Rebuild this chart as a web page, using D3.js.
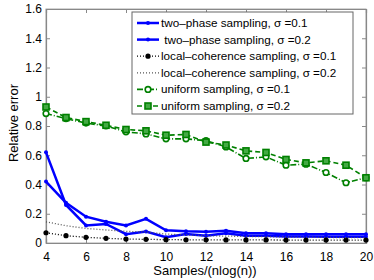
<!DOCTYPE html>
<html>
<head>
<meta charset="utf-8">
<script src="https://cdn.jsdelivr.net/npm/d3@7"></script>
<style>
  body { margin: 0; background: #fff; }
  text { font-family: "Liberation Sans", Arial, sans-serif; }
</style>
</head>
<body>
<div id="chart"></div>
<script>
// data
var samples = [4, 5, 6, 7, 8, 9, 10, 11, 12, 13, 14, 15, 16, 17, 18, 19, 20];
var twoPhase01 = [0.42, 0.275, 0.18, 0.145, 0.12, 0.165, 0.087, 0.08, 0.077, 0.084, 0.066, 0.066, 0.06, 0.06, 0.06, 0.06, 0.06];
var twoPhase02 = [0.62, 0.26, 0.12, 0.13, 0.06, 0.078, 0.04, 0.062, 0.05, 0.066, 0.05, 0.05, 0.045, 0.045, 0.043, 0.043, 0.043];
var local01 = [0.07, 0.05, 0.039, 0.032, 0.027, 0.025, 0.023, 0.022, 0.022, 0.021, 0.021, 0.021, 0.02, 0.02, 0.02, 0.02, 0.02];
var local02 = [0.145, 0.118, 0.1, 0.089, 0.08, 0.075, 0.061, 0.055, 0.05, 0.047, 0.045, 0.043, 0.041, 0.04, 0.038, 0.037, 0.036];
var uniform01 = [0.885, 0.85, 0.82, 0.80, 0.76, 0.746, 0.712, 0.712, 0.70, 0.657, 0.578, 0.589, 0.532, 0.539, 0.482, 0.412, 0.446];
var uniform02 = [0.93, 0.858, 0.83, 0.805, 0.776, 0.767, 0.737, 0.742, 0.69, 0.67, 0.63, 0.619, 0.571, 0.548, 0.562, 0.532, 0.446];
var xTicks = [4, 6, 8, 10, 12, 14, 16, 18, 20];
var yTicks = [0, 0.2, 0.4, 0.6, 0.8, 1, 1.2, 1.4, 1.6];
var legendLabels = [
  "two\u2013phase sampling, \u03c3 =0.1",
  " two\u2013phase sampling, \u03c3 =0.2",
  "local\u2013coherence sampling, \u03c3 =0.1",
  "local\u2013coherence sampling, \u03c3 =0.2",
  "uniform sampling, \u03c3 =0.1",
  "uniform sampling, \u03c3 =0.2"
];

var width = 374;
var height = 280;
var margin = { top: 9, right: 8, bottom: 37, left: 46 };
var chartWidth = width - margin.left - margin.right;
var chartHeight = height - margin.top - margin.bottom;

var svg = d3.select("#chart")
    .append("svg")
    .attr("width", width)
    .attr("height", height);

var chartGroup = svg.append("g")
    .attr("transform", `translate(${margin.left}, ${margin.top})`);

var xScale = d3.scaleLinear().domain([4, 20]).range([0, chartWidth]);
var yScale = d3.scaleLinear().domain([0, 1.6]).range([chartHeight, 0]);

// frame with inward ticks, like matlab
chartGroup.append("rect")
    .attr("width", chartWidth)
    .attr("height", chartHeight)
    .attr("fill", "none")
    .attr("stroke", "#aaa")
    .attr("stroke-width", 1);

var xAxis = d3.axisBottom(xScale).tickValues(xTicks).tickSize(-4).tickPadding(9).tickFormat(d3.format("d"));
var yAxis = d3.axisLeft(yScale).tickValues(yTicks).tickSize(-4).tickPadding(4).tickFormat(d => d === 0 ? "0" : d3.format("~g")(d));

chartGroup.append("g")
    .attr("transform", "translate(0," + chartHeight + ")")
    .call(xAxis);
chartGroup.append("g").call(yAxis);
chartGroup.append("g")
    .call(d3.axisTop(xScale).tickValues(xTicks).tickSize(-4).tickFormat(""));
chartGroup.append("g")
    .attr("transform", "translate(" + chartWidth + ",0)")
    .call(d3.axisRight(yScale).tickValues(yTicks).tickSize(-4).tickFormat(""));

chartGroup.selectAll(".domain").attr("stroke", "#888").attr("stroke-width", 1.2);
chartGroup.selectAll(".tick line").attr("stroke", "#888");
chartGroup.selectAll(".tick text").attr("fill", "#000").style("font-size", "12px")
    .style("font-family", "'Liberation Sans', Arial, sans-serif");

// series
var series = [
  { vals: twoPhase01, color: "#0000ff", width: 2.5, dash: null, marker: "dot" },
  { vals: twoPhase02, color: "#0000ff", width: 2.5, dash: null, marker: "dot" },
  { vals: local01, color: "#000", width: 1.3, dash: "1,2", marker: "bigdot" },
  { vals: local02, color: "#555", width: 1.3, dash: "1,2", marker: null },
  { vals: uniform01, color: "#008000", width: 1.6, dash: "6,2,1,2", marker: "circle" },
  { vals: uniform02, color: "#008000", width: 1.6, dash: "5,3", marker: "square" }
];

var line = d3.line()
    .x(d => xScale(d[0]))
    .y(d => yScale(d[1]));

function drawMarker(g, s, x, y) {
  if (s.marker === "dot") {
    g.append("circle").attr("cx", x).attr("cy", y).attr("r", 2).attr("fill", s.color);
  } else if (s.marker === "bigdot") {
    g.append("circle").attr("cx", x).attr("cy", y).attr("r", 2.6).attr("fill", s.color);
  } else if (s.marker === "circle") {
    g.append("circle").attr("cx", x).attr("cy", y).attr("r", 2.8)
        .attr("fill", "#fff").attr("stroke", s.color).attr("stroke-width", 1.6);
  } else if (s.marker === "square") {
    g.append("rect").attr("x", x - 3).attr("y", y - 3).attr("width", 6).attr("height", 6)
        .attr("fill", "#4a4").attr("stroke", s.color).attr("stroke-width", 1.6);
  }
}

series.forEach(function(s) {
  var pts = samples.map((x, i) => [x, s.vals[i]]);
  chartGroup.append("path")
      .datum(pts)
      .attr("d", line)
      .attr("fill", "none")
      .attr("stroke", s.color)
      .attr("stroke-width", s.width)
      .attr("stroke-dasharray", s.dash);
  var mg = chartGroup.append("g");
  pts.forEach(p => drawMarker(mg, s, xScale(p[0]), yScale(p[1])));
});

// legend
var legend = svg.append("g").attr("transform", "translate(132, 12)");
legend.append("rect")
    .attr("width", 221)
    .attr("height", 102)
    .attr("fill", "#fff")
    .attr("stroke", "#666")
    .attr("stroke-width", 1);

series.forEach(function(s, i) {
  var y = 11 + i * 16.6;
  legend.append("line")
      .attr("x1", 5).attr("x2", 27)
      .attr("y1", y).attr("y2", y)
      .attr("stroke", s.color)
      .attr("stroke-width", s.width)
      .attr("stroke-dasharray", s.dash);
  drawMarker(legend, s, 16, y);
  legend.append("text")
      .attr("x", 29)
      .attr("y", y + 4)
      .attr("xml:space", "preserve")
      .style("font-size", "11.7px")
      .text(legendLabels[i]);
});

// axis titles
svg.append("text")
    .attr("transform", "rotate(-90)")
    .attr("x", -123)
    .attr("y", 18)
    .attr("text-anchor", "middle")
    .style("font-size", "13px")
    .text("Relative error");

svg.append("text")
    .attr("x", 205)
    .attr("y", 275)
    .attr("text-anchor", "middle")
    .style("font-size", "13px")
    .text("Samples/(nlog(n))");
</script>
</body>
</html>
